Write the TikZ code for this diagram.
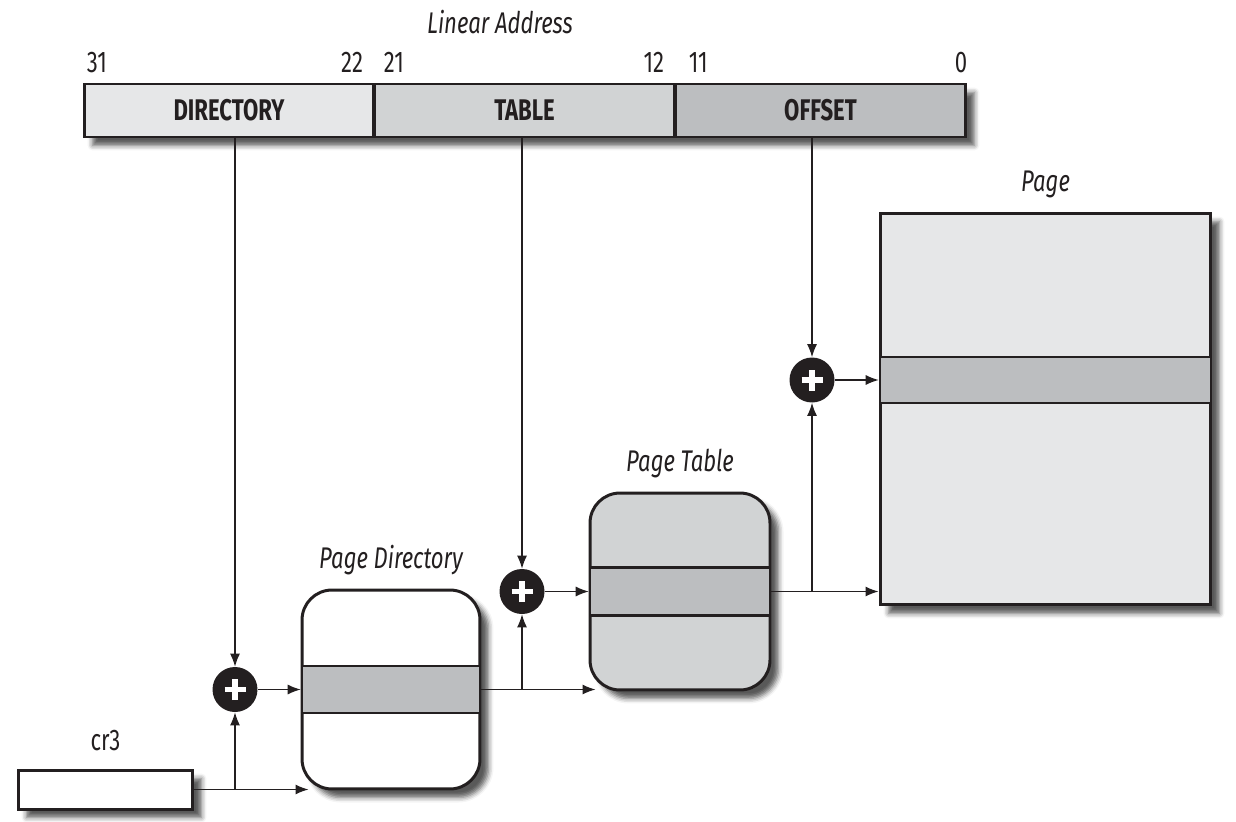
\documentclass[tikz,border=0pt]{standalone}
\usepackage{fontspec}
\setmainfont{Fira Sans}[FakeStretch=0.74]
\usetikzlibrary{arrows.meta,positioning,shadows.blur}
\definecolor{inkblack}{HTML}{231F20}
\definecolor{paleg}{HTML}{E6E7E8}
\definecolor{midg}{HTML}{D1D3D4}
\definecolor{darkg}{HTML}{BCBEC0}

\begin{document}
\begin{tikzpicture}[
  x=0.02cm, y=-0.02cm,
  font=\fontsize{17}{19}\selectfont, text=inkblack,
  shade/.style={blur shadow={shadow xshift=0.17cm, shadow yshift=-0.17cm, shadow blur radius=0.1cm, shadow opacity=65}},
  field/.style={draw=inkblack, line width=1.7pt, minimum height=1.06cm, inner sep=0pt, font=\fontsize{17}{19}\selectfont\bfseries},
  bitno/.style={inner sep=0pt, yshift=0.19cm},
  title/.style={inner sep=0pt, font=\fontsize{17}{19}\selectfont\itshape},
  tblbox/.style={draw=inkblack, line width=1.7pt, rounded corners=0.6cm, inner sep=0pt, shade},
  row/.style={draw=inkblack, line width=1.5pt, fill=darkg, inner sep=0pt},
  plus/.style={circle, fill=inkblack, minimum size=0.9cm, inner sep=0pt,
    path picture={\draw[white, line width=3.4pt]
      ([xshift=-0.21cm]path picture bounding box.center) -- ([xshift=0.21cm]path picture bounding box.center)
      ([yshift=-0.21cm]path picture bounding box.center) -- ([yshift=0.21cm]path picture bounding box.center);}},
  link/.style={-{Latex[length=0.26cm, width=0.2cm]}, line width=0.7pt, draw=inkblack}
]
\useasboundingbox (0,0) rectangle (1236,821);

\node (linear) at (500,22) {\itshape Linear Address};
\node[field, minimum width=17.64cm, fill=white, shade] (addr) at (525,110.5) {};
\node[field, fill=paleg, minimum width=5.8cm] (dir) at (229,110.5) {DIRECTORY};
\node[field, fill=midg, minimum width=6.02cm] (tbl) at (524.5,110.5) {TABLE};
\node[field, fill=darkg, minimum width=5.82cm] (off) at (820.5,110.5) {OFFSET};

\node[bitno, anchor=south west, xshift=0.08cm] (b31) at (dir.north west) {31};
\node[bitno, anchor=south east, xshift=-0.24cm] (b22) at (dir.north east) {22};
\node[bitno, anchor=south west, xshift=0.22cm] (b21) at (tbl.north west) {21};
\node[bitno, anchor=south east, xshift=-0.24cm] (b12) at (tbl.north east) {12};
\node[bitno, anchor=south west, xshift=0.3cm] (b11) at (off.north west) {11};
\node[bitno, anchor=south east] (b0) at (off.north east) {0};

\node[draw=inkblack, line width=1.7pt, fill=white, inner sep=0pt, minimum width=3.5cm, minimum height=0.78cm, shade] (cr3) at (105.5,789.5) {};
\node[inner sep=0pt, above=0.34cm of cr3] (cr3name) {cr3};

\node[tblbox, fill=white, minimum width=3.56cm, minimum height=3.98cm] (pd) at (391,689.5) {};
\node[row, minimum width=3.56cm, minimum height=0.94cm] (pdrow) at (pd.center) {};
\node[title, above=0.26cm of pd] (pdname) {Page Directory};

\node[tblbox, fill=midg, minimum width=3.6cm, minimum height=3.94cm] (pt) at (680,591.5) {};
\node[row, minimum width=3.6cm, minimum height=0.96cm] (ptrow) at (pt.center) {};
\node[title, above=0.26cm of pt] (ptname) {Page Table};

\node[draw=inkblack, line width=1.7pt, fill=paleg, inner sep=0pt, minimum width=6.62cm, minimum height=7.84cm, shade] (page) at (1045.5,409) {};
\node[row, minimum width=6.62cm, minimum height=0.92cm] (pagerow) at (1045.5,380) {};
\node[title, above=0.26cm of page] (pagename) {Page};

\node[plus] (p1) at (235,689.5) {};
\node[plus] (p2) at (522,591.5) {};
\node[plus] (p3) at (812,380) {};

\draw[link] (dir.south -| p1) -- (p1.north);
\draw[link] (cr3.east) -- ([xshift=0.16cm]cr3.east -| pd.west);
\draw[link] (cr3.east -| p1) -- (p1.south);
\draw[link] (p1.east) -- (pdrow.west);

\draw[link] (tbl.south -| p2) -- (p2.north);
\draw[link] (pdrow.east) -- ([xshift=0.14cm]pdrow.east -| pt.west);
\draw[link] (pdrow.east -| p2) -- (p2.south);
\draw[link] (p2.east) -- (ptrow.west);

\draw[link] (off.south -| p3) -- (p3.north);
\draw[link] (ptrow.east) -- (ptrow.east -| page.west);
\draw[link] (ptrow.east -| p3) -- (p3.south);
\draw[link] (p3.east) -- (pagerow.west);

\end{tikzpicture}
\end{document}
